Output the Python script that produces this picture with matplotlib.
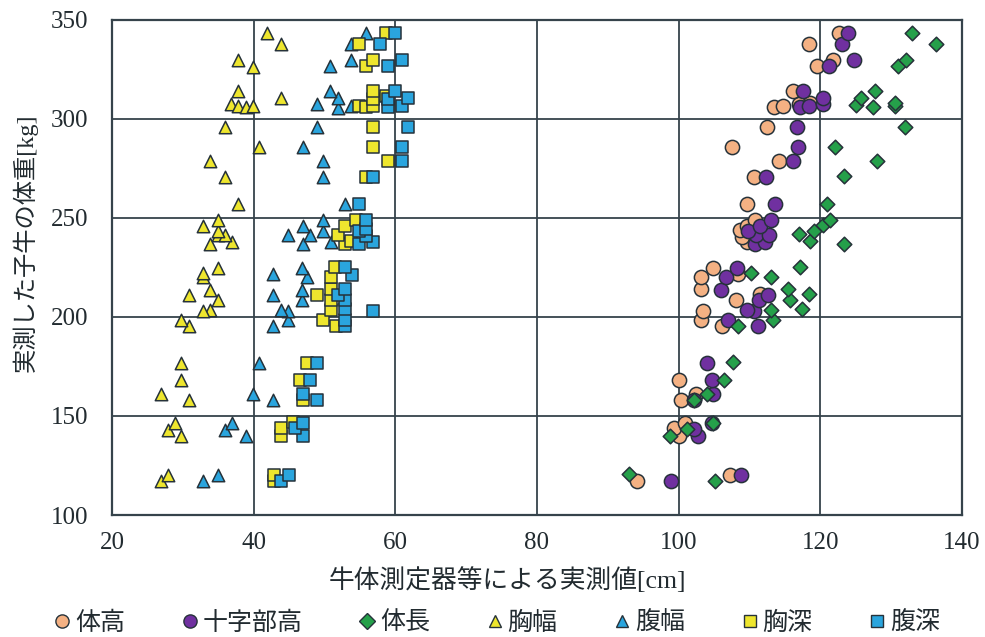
import numpy as np
import matplotlib
matplotlib.use('Agg')
import matplotlib.pyplot as plt
from matplotlib.lines import Line2D

plt.rcParams['font.family'] = ['Liberation Serif', 'Noto Sans CJK JP']

# 体高
tai_kou_x = [94.1, 107.2, 100.0, 99.3, 100.9, 100.4, 102.5, 100.1, 106.1, 103.1, 103.5, 108.1,
             111.5, 103.1, 103.1, 108.4, 104.9, 109.6, 108.9, 108.6, 109.6, 110.8, 109.6, 110.6,
             114.2, 107.6, 112.5, 113.5, 114.8, 117.0, 118.5, 116.1, 119.6, 121.8, 118.4, 122.6]
tai_kou_y = [117.1, 120.2, 140.0, 143.7, 146.7, 158.0, 161.3, 168.0, 195.3, 198.3, 203.0, 208.7,
             211.4, 214.3, 220.1, 221.8, 224.8, 237.8, 240.3, 244.0, 245.7, 249.0, 257.1, 270.9,
             278.6, 285.6, 295.7, 305.8, 306.7, 307.5, 308.3, 313.9, 326.8, 329.7, 337.7, 343.6]

# 十字部高
juji_x = [98.9, 108.8, 102.8, 102.1, 104.7, 102.1, 104.9, 104.7, 104.0, 111.2, 106.9, 110.6,
          109.7, 111.4, 112.6, 106.0, 106.7, 108.2, 110.8, 112.2, 110.9, 112.8, 109.8, 111.5,
          113.0, 113.6, 112.4, 116.2, 116.9, 116.7, 117.2, 118.4, 120.4, 120.4, 117.5, 121.2,
          124.8, 123.0, 123.9]
juji_y = [117.1, 120.2, 140.0, 143.2, 146.7, 158.0, 161.0, 168.0, 176.8, 195.3, 198.6, 203.0,
          203.7, 208.7, 210.9, 213.8, 220.1, 224.8, 237.0, 237.8, 241.6, 241.6, 243.6, 245.7,
          249.0, 257.1, 270.9, 278.6, 285.6, 295.7, 305.8, 306.7, 307.5, 310.5, 313.9, 326.8,
          329.7, 337.7, 343.6]

# 体長
tai_cho_x = [93.0, 105.1, 98.8, 101.2, 104.8, 102.1, 104.0, 106.4, 107.7, 108.4, 113.3, 113.0,
             117.4, 115.7, 118.4, 115.5, 113.0, 110.2, 117.2, 123.3, 118.5, 117.0, 119.1, 120.4,
             121.4, 120.9, 123.3, 128.0, 122.1, 132.0, 127.4, 125.0, 130.5, 130.5, 125.7, 127.7,
             131.0, 132.1, 136.4, 132.9]
tai_cho_y = [120.7, 117.3, 140.0, 143.2, 146.7, 158.0, 161.0, 168.4, 177.3, 195.3, 198.6, 203.3,
             204.2, 208.7, 211.4, 214.3, 220.1, 222.1, 225.2, 237.0, 238.3, 242.0, 243.6, 246.2,
             249.0, 257.1, 271.0, 278.9, 286.0, 295.7, 305.8, 307.2, 306.7, 308.3, 310.5, 313.9,
             326.8, 329.7, 337.7, 343.6]

# 胸幅
kyo_haba_x = [26.9, 27.9, 29.8, 27.9, 28.9, 30.9, 26.9, 29.8, 29.8, 30.9, 29.8, 33.8, 32.9,
              34.9, 30.9, 33.8, 32.9, 32.9, 34.9, 33.8, 36.9, 34.9, 36.0, 34.9, 32.9, 34.9,
              37.8, 35.9, 33.8, 40.8, 35.9, 36.8, 37.8, 38.9, 39.9, 43.8, 37.8, 39.9, 37.8,
              43.8, 41.9]
kyo_haba_y = [117.1, 120.2, 140.0, 142.8, 146.7, 158.0, 161.0, 168.0, 176.8, 195.3, 198.6,
              203.7, 203.0, 208.7, 210.9, 213.8, 220.1, 222.1, 224.8, 237.0, 237.8, 241.6,
              241.6, 243.6, 245.7, 249.0, 257.1, 270.9, 278.6, 285.6, 295.7, 307.5, 306.7,
              305.8, 306.7, 310.5, 313.9, 326.3, 329.7, 337.7, 343.6]

# 腹幅
fuku_haba_x = [32.9, 34.9, 38.9, 35.9, 36.9, 42.8, 39.9, 40.8, 42.8, 44.9, 44.9, 43.8, 46.8,
               42.8, 46.8, 47.5, 42.8, 46.8, 46.9, 50.9, 44.9, 47.9, 49.8, 46.9, 49.8, 52.9,
               49.8, 49.8, 46.9, 48.9, 48.9, 51.9, 53.7, 51.9, 50.8, 50.8, 53.8, 53.7, 55.9]
fuku_haba_y = [117.1, 120.2, 140.0, 142.8, 146.7, 158.0, 161.0, 176.8, 195.3, 198.3, 203.0,
               203.7, 208.7, 210.9, 213.8, 220.1, 221.8, 224.8, 237.0, 237.8, 241.6, 241.6,
               243.6, 245.7, 249.0, 257.1, 270.9, 278.6, 285.6, 295.7, 307.8, 305.5, 306.7,
               310.5, 313.9, 326.8, 329.7, 337.7, 343.6]

# 胸深
kyo_fuka_x = [42.9, 42.9, 43.8, 43.8, 45.6, 46.9, 46.5, 47.5, 51.6, 49.8, 50.9, 50.9, 48.9,
              50.9, 50.9, 51.5, 52.9, 53.7, 51.9, 52.9, 54.5, 55.9, 58.9, 56.9, 56.9, 54.9,
              55.9, 56.9, 56.9, 58.7, 56.9, 55.9, 56.9, 54.9, 58.7]
kyo_fuka_y = [117.1, 120.2, 140.0, 143.7, 147.0, 158.0, 168.0, 176.8, 195.3, 198.6, 203.3,
              208.7, 210.9, 214.3, 220.1, 225.2, 237.0, 238.6, 241.6, 245.7, 249.0, 270.9,
              278.6, 285.6, 295.7, 306.7, 305.8, 306.7, 310.0, 311.7, 313.9, 326.8, 329.7,
              337.7, 343.6]

# 腹深
fuku_fuka_x = [43.8, 45.0, 46.9, 45.9, 46.9, 48.9, 46.9, 47.9, 48.9, 52.9, 52.9, 56.9, 52.9,
               52.9, 51.9, 52.9, 53.9, 52.9, 54.9, 56.9, 55.9, 54.9, 55.9, 55.9, 54.9, 56.9,
               60.9, 60.9, 61.8, 58.9, 60.9, 58.9, 61.8, 59.9, 58.9, 60.9, 57.8, 59.9]
fuku_fuka_y = [117.1, 120.2, 140.0, 143.7, 146.7, 158.0, 161.3, 168.0, 176.8, 195.3, 198.6,
               203.0, 204.2, 208.7, 210.9, 214.3, 221.0, 225.2, 237.0, 237.8, 241.1, 243.6,
               244.5, 249.0, 257.1, 270.9, 278.6, 285.6, 295.7, 305.8, 306.7, 310.0, 310.5,
               313.9, 326.8, 329.7, 337.7, 343.6]

series = [
    ('体高', tai_kou_x, tai_kou_y, 'o', '#F4B183', 105),
    ('十字部高', juji_x, juji_y, 'o', '#7030A0', 105),
    ('体長', tai_cho_x, tai_cho_y, 'D', '#25A04A', 55),
    ('胸幅', kyo_haba_x, kyo_haba_y, '^', '#EEE62E', 80),
    ('腹幅', fuku_haba_x, fuku_haba_y, '^', '#2AA5DE', 80),
    ('胸深', kyo_fuka_x, kyo_fuka_y, 's', '#EEE62E', 80),
    ('腹深', fuku_fuka_x, fuku_fuka_y, 's', '#2AA5DE', 80),
]

edge = '#26323a'
fig = plt.figure(figsize=(9.85, 6.37), dpi=100)
ax = fig.add_axes([0.1137, 0.1915, 0.8629, 0.7772])

for label, xs, ys, m, c, s in series:
    ax.scatter(xs, ys, marker=m, s=s, c=c, edgecolors=edge, linewidths=1.1,
               label=label, zorder=3)

ax.set_xlim(20, 140)
ax.set_ylim(100, 350)
ax.set_xticks(np.arange(20, 141, 20))
ax.set_yticks(np.arange(100, 351, 50))
ax.grid(True, color='#36434b', linewidth=1.3, zorder=0)
ax.tick_params(length=0, labelsize=18, colors='#222b30')
ax.tick_params(axis='x', pad=12)
ax.tick_params(axis='y', pad=17)
for sp in ax.spines.values():
    sp.set_color('#36434b')
    sp.set_linewidth(1.6)

ax.set_xlabel('牛体測定器等による実測値[cm]', fontsize=18.5, va='center', color='#222b30')
ax.set_ylabel('実測した子牛の体重[kg]', fontsize=17.5, va='center', color='#222b30')
ax.xaxis.set_label_coords(0.465, -0.131)
ax.yaxis.set_label_coords(-0.102, 0.55)

handles = [Line2D([], [], linestyle='none', marker=m, markersize=9.5 if m == 'o' else 8,
                  markerfacecolor=c, markeredgecolor=edge, markeredgewidth=1.0)
           for _, _, _, m, c, _ in series]
labels = [s[0] for s in series]
fig.legend(handles, labels, loc='center', bbox_to_anchor=(0.505, 0.022), ncol=7,
           frameon=False, fontsize=18, handletextpad=0.2, columnspacing=2.3,
           handlelength=0.6, borderpad=0, labelcolor='#222b30')

fig.savefig('out.png', dpi=100)
